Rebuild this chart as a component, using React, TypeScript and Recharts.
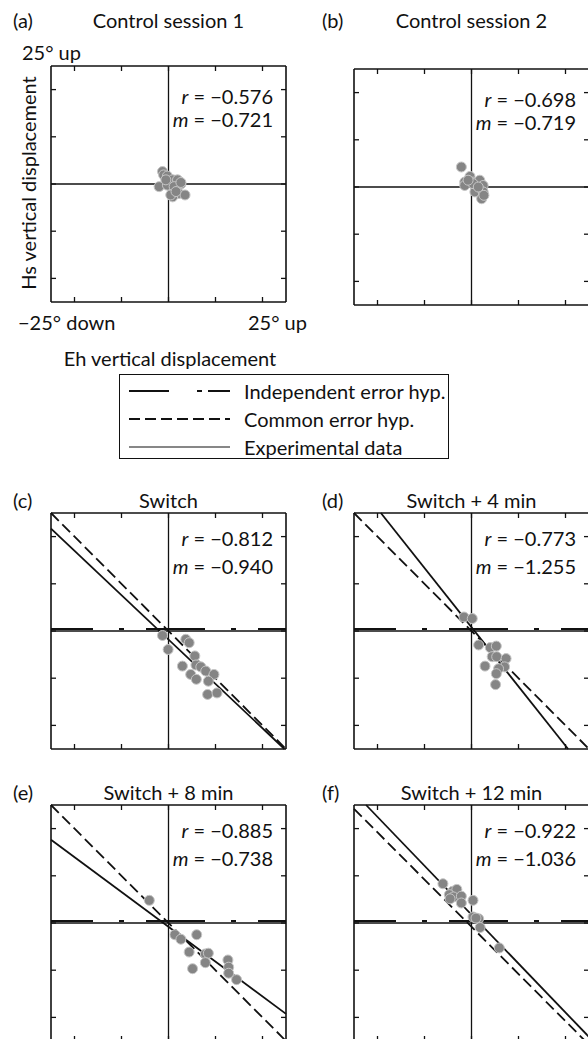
import React from "react";
import { ScatterChart, Scatter, XAxis, YAxis, ReferenceLine } from "recharts";

const FONT = "Lato, 'Open Sans', sans-serif";
const INK = "#111";
const FS = 20;

// data
const panelLetters = ["(a)", "(b)", "(c)", "(d)", "(e)", "(f)"];
const panelTitles = ["Control session 1", "Control session 2", "Switch", "Switch + 4 min", "Switch + 8 min", "Switch + 12 min"];
const rValues = [-0.576, -0.698, -0.812, -0.773, -0.885, -0.922];
const mValues = [-0.721, -0.719, -0.94, -1.255, -0.738, -1.036];
// experimental fit: y = m x + b (only switch panels draw lines)
const fitIntercepts = [null, null, -2.26, 1.0, -1.0, 2.2];
const commonIntercepts = [null, null, 0, 0, 0, -1.0];
const independentLevels = [null, null, 0.5, 0.5, 0.5, 0.5];
const axisTicks = [-25, -12.5, 0, 12.5, 25];
const axisLimit = 31.25;
const legendLabels = ["Independent error hyp.", "Common error hyp.", "Experimental data"];

const pointsA = [
  { x: -1.6, y: 3.3 }, { x: -1.3, y: 2.4 }, { x: -0.3, y: 2.1 }, { x: 1.1, y: 1.1 },
  { x: 2.4, y: 1.1 }, { x: 3.3, y: 0.0 }, { x: -2.5, y: -0.7 }, { x: -0.3, y: -0.3 },
  { x: 1.5, y: -0.7 }, { x: 2.8, y: -2.5 }, { x: 1.1, y: -3.4 }, { x: 0.6, y: -2.9 },
  { x: 4.4, y: -2.9 }, { x: 2.0, y: -2.0 }, { x: -0.7, y: 1.1 }, { x: 3.3, y: 0.4 },
];
const pointsB = [
  { x: -2.7, y: 5.3 }, { x: -0.4, y: 2.8 }, { x: -1.8, y: 1.3 }, { x: 0.4, y: 1.3 },
  { x: 2.2, y: 1.8 }, { x: 3.1, y: 0.4 }, { x: -1.8, y: 0.4 }, { x: 0.9, y: -1.3 },
  { x: 3.1, y: -1.3 }, { x: 2.7, y: -3.1 }, { x: 0.4, y: 0.9 }, { x: -0.9, y: 1.8 },
  { x: 1.8, y: 0.0 }, { x: 3.3, y: -2.2 },
];
const pointsC = [
  { x: -1.6, y: -1.2 }, { x: -0.1, y: -4.9 }, { x: 4.6, y: -2.2 }, { x: 5.5, y: -3.1 },
  { x: 7.0, y: -6.6 }, { x: 3.7, y: -9.3 }, { x: 7.3, y: -9.0 }, { x: 8.6, y: -9.5 },
  { x: 9.9, y: -10.6 }, { x: 12.1, y: -11.5 }, { x: 5.9, y: -11.5 }, { x: 7.4, y: -12.8 },
  { x: 10.6, y: -13.3 }, { x: 10.4, y: -16.8 }, { x: 12.9, y: -16.4 },
];
const pointsD = [
  { x: -2.0, y: 3.7 }, { x: 0.2, y: 3.3 }, { x: 1.9, y: -3.7 }, { x: 5.0, y: -4.4 },
  { x: 6.6, y: -4.0 }, { x: 5.5, y: -6.8 }, { x: 6.7, y: -6.8 }, { x: 9.2, y: -7.3 },
  { x: 3.6, y: -9.3 }, { x: 8.8, y: -9.5 }, { x: 7.2, y: -10.0 }, { x: 6.6, y: -11.3 },
  { x: 6.4, y: -14.2 },
];
const pointsE = [
  { x: -5.1, y: 6.0 }, { x: 1.7, y: -3.1 }, { x: 3.3, y: -4.3 }, { x: 7.5, y: -3.1 },
  { x: 5.5, y: -7.7 }, { x: 9.8, y: -8.2 }, { x: 10.6, y: -8.0 }, { x: 9.8, y: -10.5 },
  { x: 6.4, y: -12.1 }, { x: 15.8, y: -9.8 }, { x: 16.0, y: -11.7 }, { x: 16.0, y: -13.3 },
  { x: 18.1, y: -15.0 },
];
const pointsF = [
  { x: -7.6, y: 10.4 }, { x: -5.0, y: 8.4 }, { x: -3.9, y: 8.9 }, { x: -5.9, y: 7.5 },
  { x: -4.8, y: 6.9 }, { x: -2.7, y: 7.1 }, { x: -5.7, y: 6.4 }, { x: -2.7, y: 5.3 },
  { x: 0.4, y: 6.0 }, { x: 0.4, y: 1.6 }, { x: 1.9, y: 1.1 }, { x: 2.3, y: -1.2 },
  { x: 7.4, y: -6.6 }, { x: 1.2, y: 1.3 },
];
const panelPoints = [pointsA, pointsB, pointsC, pointsD, pointsE, pointsF];

// layout
const PW = 235;
const PH = 236;
const M = 10;
const PANEL_POS = [
  { left: 51, top: 66 }, { left: 354, top: 69 },
  { left: 51, top: 513 }, { left: 354, top: 513 },
  { left: 51, top: 805 }, { left: 354, top: 805 },
];
const TITLE_Y = [20, 20, 500, 500, 792, 792];

const fmt = (v: number) => "\u2212" + Math.abs(v).toFixed(3);

function clipLine(slope: number, b: number) {
  const xs = [(axisLimit - b) / slope, (-axisLimit - b) / slope].sort((p, q) => p - q);
  const x1 = Math.max(-axisLimit, xs[0]);
  const x2 = Math.min(axisLimit, xs[1]);
  return [{ x: x1, y: slope * x1 + b }, { x: x2, y: slope * x2 + b }];
}

const Dot = (p: any) => (
  <circle cx={p.cx} cy={p.cy} r={5} fill="#858585" stroke="#c6c6c6" strokeWidth={1} />
);
const noTick = () => <g />;

function Txt({ x, y, anchor = "start", size = FS, children }: any) {
  const tx = anchor === "start" ? "0" : anchor === "middle" ? "-50%" : "-100%";
  return (
    <div style={{ position: "absolute", left: x, top: y, transform: `translate(${tx}, -50%)`, whiteSpace: "nowrap", fontSize: size, lineHeight: 1 }}>
      {children}
    </div>
  );
}

function Panel({ idx }: { idx: number }) {
  const pos = PANEL_POS[idx];
  const slope = mValues[idx];
  const fitB = fitIntercepts[idx];
  const comB = commonIntercepts[idx];
  const ind = independentLevels[idx];
  const axisProps = {
    type: "number" as const,
    domain: [-axisLimit, axisLimit],
    ticks: axisTicks,
    allowDataOverflow: true,
    tickSize: -5,
    interval: 0 as const,
    tick: noTick,
    axisLine: { stroke: INK, strokeWidth: 1.6 },
    tickLine: { stroke: INK, strokeWidth: 1.3 },
  };
  return (
    <div style={{ position: "absolute", left: pos.left - M, top: pos.top - M }}>
      <ScatterChart width={PW + 2 * M} height={PH + 2 * M} margin={{ top: 0, right: 0, bottom: 0, left: 0 }}>
        <XAxis xAxisId="b" dataKey="x" orientation="bottom" height={M} {...axisProps} />
        <XAxis xAxisId="t" dataKey="x" orientation="top" height={M} {...axisProps} />
        <YAxis yAxisId="l" dataKey="y" orientation="left" width={M} {...axisProps} />
        <YAxis yAxisId="r" dataKey="y" orientation="right" width={M} {...axisProps} />
        <ReferenceLine xAxisId="b" yAxisId="l" x={0} stroke={INK} strokeWidth={1.3} />
        <ReferenceLine xAxisId="b" yAxisId="l" y={0} stroke={INK} strokeWidth={1.3} />
        {ind !== null && (
          <ReferenceLine xAxisId="b" yAxisId="l" ifOverflow="visible"
            segment={[{ x: -axisLimit, y: ind }, { x: axisLimit, y: ind }]}
            stroke={INK} strokeWidth={2} strokeDasharray="59 26 5 22" strokeDashoffset={17} />
        )}
        {comB !== null && (
          <ReferenceLine xAxisId="b" yAxisId="l" ifOverflow="visible"
            segment={clipLine(-1, comB)} stroke={INK} strokeWidth={1.8} strokeDasharray="11 5" />
        )}
        {fitB !== null && (
          <ReferenceLine xAxisId="b" yAxisId="l" ifOverflow="visible"
            segment={clipLine(slope, fitB)} stroke={INK} strokeWidth={1.8} />
        )}
        <Scatter xAxisId="b" yAxisId="l" data={panelPoints[idx]} shape={Dot} isAnimationActive={false} />
      </ScatterChart>
    </div>
  );
}

function Legend() {
  const left = 119;
  const top = 374;
  const w = 330;
  const h = 85;
  const rows = [391, 419, 447].map((r) => r - top);
  const lx = (v: number) => v - left;
  return (
    <div style={{ position: "absolute", left, top, width: w, height: h, border: "1px solid " + INK, boxSizing: "border-box" }}>
      <svg width={w} height={h} style={{ position: "absolute", left: -1, top: -1 }}>
        <line x1={lx(129)} x2={lx(169)} y1={rows[0]} y2={rows[0]} stroke={INK} strokeWidth={2} />
        <line x1={lx(197)} x2={lx(202)} y1={rows[0]} y2={rows[0]} stroke={INK} strokeWidth={2} />
        <line x1={lx(208)} x2={lx(230)} y1={rows[0]} y2={rows[0]} stroke={INK} strokeWidth={2} />
        <line x1={lx(129)} x2={lx(230)} y1={rows[1]} y2={rows[1]} stroke={INK} strokeWidth={1.8} strokeDasharray="11 5" />
        <line x1={lx(129)} x2={lx(230)} y1={rows[2]} y2={rows[2]} stroke={INK} strokeWidth={1.2} />
      </svg>
      {legendLabels.map((t, i) => (
        <Txt key={t} x={lx(243)} y={rows[i] - 1}>{t}</Txt>
      ))}
    </div>
  );
}

export default function App() {
  return (
    <div style={{ position: "absolute", left: 0, top: 0, width: 588, height: 1039, overflow: "hidden", background: "#fff", fontFamily: FONT, color: INK }}>
      {panelTitles.map((t, i) => {
        const pos = PANEL_POS[i];
        const right = pos.left + PW - 13;
        const rOff = i < 2 ? 30 : 25;
        return (
          <React.Fragment key={t}>
            <Txt x={i % 2 === 0 ? 13 : 322} y={TITLE_Y[i]}>{panelLetters[i]}</Txt>
            <Txt x={pos.left + PW / 2} y={TITLE_Y[i]} anchor="middle">{t}</Txt>
            <Panel idx={i} />
            <Txt x={right} y={pos.top + rOff} anchor="end"><i>r</i> = {fmt(rValues[i])}</Txt>
            <Txt x={right} y={pos.top + 53} anchor="end"><i>m</i> = {fmt(mValues[i])}</Txt>
          </React.Fragment>
        );
      })}
      <Txt x={22} y={52}>25° up</Txt>
      <Txt x={18} y={322}>−25° down</Txt>
      <Txt x={248} y={322}>25° up</Txt>
      <Txt x={170} y={358} anchor="middle">Eh vertical displacement</Txt>
      <div style={{ position: "absolute", left: 28, top: 183, transform: "translate(-50%, -50%) rotate(-90deg)", whiteSpace: "nowrap", fontSize: FS, lineHeight: 1 }}>
        Hs vertical displacement
      </div>
      <Legend />
    </div>
  );
}
